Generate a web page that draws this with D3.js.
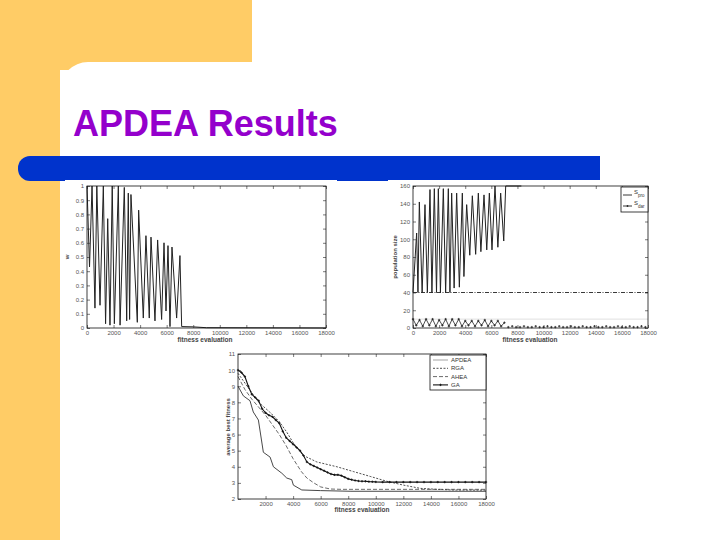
<!DOCTYPE html>
<html><head><meta charset="utf-8">
<script src="https://cdn.jsdelivr.net/npm/d3@7"></script>
<style>body{margin:0;background:#fff}svg{display:block}text{font-family:"Liberation Sans",Arial,sans-serif}</style>
</head><body>
<svg id="s" width="720" height="540"></svg>
<script>
// ---------- DATA ----------
const title = "APDEA Results";
// Chart 1: w vs fitness evaluation
const wX = [0,190,380,600,740,980,1230,1400,1560,1730,1900,2060,2360,2490,2810,2990,3110,3210,3310,3790,3890,4240,4440,4690,4820,5120,5320,5620,5800,5950,6100,6250,6400,6750,7000,7130,8000,9000,18000];
const wY = [1.0,0.43,1.0,0.14,1.0,0.16,1.0,0.03,0.77,0.02,1.0,0.03,1.0,0.02,0.99,0.05,0.95,0.06,0.94,0.04,0.83,0.07,0.65,0.07,0.64,0.05,0.62,0.06,0.60,0.12,0.58,0.01,0.57,0.07,0.51,0.01,0.008,0.002,0];
const c1YTicks = [0,0.1,0.2,0.3,0.4,0.5,0.6,0.7,0.8,0.9,1];
const c1YLabels = ["0","0.1","0.2","0.3","0.4","0.5","0.6","0.7","0.8","0.9","1"];
const evalTicks = [0,2000,4000,6000,8000,10000,12000,14000,16000,18000];
// Chart 2: population size
const proX = [0,280,380,485,700,919,1100,1302,1450,1634,1800,1941,2100,2324,2500,2707,2830,2962,3150,3345,3550,3779,3900,4111,4350,4545,4800,5005,5200,5439,5650,5848,6050,6281,6500,6715,6950,7100,8300];
const proY = [40,107,40,142,40,139,40,156,40,157,40,157,40,157,40,157,40,152,45,152,46,152,58,139,82,149,83,152,86,150,88,152,88,160,91,152,98,160,160];
const darX = [0,250,500,750,1000,1250,1500,1750,2000,2250,2500,2750,3000,3250,3500,3750,4000,4250,4500,4750,5000,5250,5500,5750,6000,6250,6500,6750,7000,7300,7600,7900,8200,8500,8800,9100,9400,9700,10000,10300,10600,10900,11200,11500,11800,12100,12400,12700,13000,13300,13600,13900,14200,14500,14800,15100,15400,15700,16000,16300,16600,16900,17200,17500,17800];
const darY = [10,3,9,2,10,3,10,2,9,3,10,2,10,3,10,2,8,3,8,2,8,3,9,2,8,3,8,2,6,1,2,1,1,2,1,1,2,1,1,2,1,1,2,1,1,2,1,1,2,1,1,2,1,1,2,1,1,2,1,1,2,1,1,2,1];
const c2RefLevels = [40,10];
const c2YTicks = [0,20,40,60,80,100,120,140,160];
const c2Legend = [["S","pro"],["S","dar"]];
// Chart 3: average best fitness
const apdeaX = [0,390,870,1110,1480,1840,2330,2570,3180,3540,3900,4020,4630,6000,8200,18000];
const apdeaY = [9.0,8.4,8.1,7.4,6.9,4.9,4.6,4.0,3.6,3.3,3.2,2.86,2.56,2.52,2.48,2.48];
const rgaX = [0,500,1000,1500,2300,3000,3540,4000,4750,5720,7180,8390,9600,10800,12020,13240,14450,15660,18000];
const rgaY = [9.8,9.2,8.6,8.0,7.4,6.8,6.15,5.5,4.7,4.3,4.0,3.7,3.4,3.1,2.86,2.66,2.6,2.56,2.55];
const aheaX = [0,500,1000,1500,2000,2500,3000,3500,4000,4600,5000,5500,6000,6700,7500,18000];
const aheaY = [9.6,8.8,8.2,7.7,7.2,6.6,6.0,5.3,4.5,3.7,3.3,3.0,2.75,2.62,2.6,2.6];
const gaX = [0,250,500,750,1000,1250,1500,1750,2000,2250,2500,2750,3000,3250,3500,3750,4000,4250,4500,4750,5000,5250,5500,5750,6000,6250,6500,6750,7000,7250,7500,7750,8000,8250,8500,8750,9000,9250,9500,9750,10000,10500,11000,11500,12000,12500,13000,13500,14000,14500,15000,15500,16000,16500,17000,17500,18000];
const gaY = [10.0,9.85,9.6,9.0,8.5,8.3,8.1,7.6,7.35,7.2,7.1,6.9,6.7,6.2,5.8,5.6,5.4,5.2,5.0,4.7,4.3,4.15,4.05,3.95,3.85,3.75,3.65,3.55,3.5,3.5,3.45,3.35,3.25,3.2,3.15,3.12,3.1,3.1,3.08,3.07,3.06,3.05,3.05,3.05,3.05,3.05,3.05,3.05,3.05,3.05,3.05,3.05,3.05,3.05,3.05,3.05,3.05];
const c3YTicks = [2,3,4,5,6,7,8,9,10,11];
const c3XTicks = [2000,4000,6000,8000,10000,12000,14000,16000,18000];
const c3Legend = ["APDEA","RGA","AHEA","GA"];

// ---------- SLIDE ----------
const svg = d3.select("#s");
svg.append("rect").attr("x",0).attr("y",0).attr("width",252).attr("height",70).attr("fill","#FFCC66");
svg.append("rect").attr("x",0).attr("y",0).attr("width",60).attr("height",540).attr("fill","#FFCC66");
svg.append("rect").attr("x",60).attr("y",62).attr("width",900).attr("height",700).attr("rx",28).attr("fill","#fff");
svg.append("text").attr("x",73).attr("y",136).attr("font-size",36).attr("font-weight","bold")
  .attr("fill","#9400CC").text(title);
svg.append("rect").attr("x",18).attr("y",156).attr("width",582).attr("height",25).attr("rx",12).attr("fill","#0033CC");
svg.append("rect").attr("x",40).attr("y",156).attr("width",560).attr("height",25).attr("fill","#0033CC");
// white picture backgrounds
svg.append("rect").attr("x",65).attr("y",180).attr("width",272).attr("height",165).attr("fill","#fff");
svg.append("rect").attr("x",388).attr("y",180).attr("width",267).attr("height",165).attr("fill","#fff");

function frame(x, y, L, R, T, B, xTicks, yTicks, yFmt, xTitle, yTitle, xTitleX, xTitleY, yTitleX, yTitleY) {
  const g = svg.append("g");
  g.append("rect").attr("x",L).attr("y",T).attr("width",R-L).attr("height",B-T).attr("fill","#fff");
  const fs = 6;
  const ax = (gen, tx, ty) => {
    const a = g.append("g").attr("transform",`translate(${tx},${ty})`).call(gen);
    a.select(".domain").remove();
    a.selectAll("line").attr("stroke","#222").attr("stroke-width",0.6);
    a.selectAll("text").attr("font-size",fs).attr("fill","#555").attr("font-family","Liberation Sans, Arial, sans-serif");
    return a;
  };
  ax(d3.axisBottom(x).tickValues(xTicks).tickSize(-3).tickPadding(3).tickFormat(d3.format("d")), 0, B);
  ax(d3.axisTop(x).tickValues(xTicks).tickSize(-3).tickFormat(""), 0, T);
  ax(d3.axisLeft(y).tickValues(yTicks).tickSize(-3).tickPadding(3).tickFormat(yFmt), L, 0);
  ax(d3.axisRight(y).tickValues(yTicks).tickSize(-3).tickFormat(""), R, 0);
  g.append("text").attr("x",xTitleX).attr("y",xTitleY).attr("text-anchor","middle").attr("font-size",6.5)
    .attr("font-weight","bold").attr("fill","#444").text(xTitle);
  g.append("text").attr("transform",`translate(${yTitleX},${yTitleY}) rotate(-90)`).attr("text-anchor","middle")
    .attr("font-size",6).attr("font-weight","bold").attr("fill","#444").text(yTitle);
  return g;
}
function box(g, L, R, T, B) {
  g.append("rect").attr("x",L).attr("y",T).attr("width",R-L).attr("height",B-T).attr("fill","none").attr("stroke","#111").attr("stroke-width",0.8);
}

// ---------- CHART 1 ----------
{
  const L=87,R=326,T=186,B=328;
  const x = d3.scaleLinear().domain([0,18000]).range([L,R]);
  const y = d3.scaleLinear().domain([0,1]).range([B,T]);
  const g = frame(x,y,L,R,T,B,evalTicks,c1YTicks,(d,i)=>c1YLabels[i],"fitness evaluation","w",205,342,69,257);
  const line = d3.line().x(d=>x(d[0])).y(d=>y(d[1]));
  g.append("path").datum(wX.map((v,i)=>[v,wY[i]])).attr("d",line).attr("fill","none").attr("stroke","#222").attr("stroke-width",1);
  box(g,L,R,T,B);
}

// ---------- CHART 2 ----------
{
  const L=413,R=648,T=186,B=328;
  const x = d3.scaleLinear().domain([0,18000]).range([L,R]);
  const y = d3.scaleLinear().domain([0,160]).range([B,T]);
  const g = frame(x,y,L,R,T,B,evalTicks,c2YTicks,d3.format("d"),"fitness evaluation","population size",530,342,397,257);
  const line = d3.line().x(d=>x(d[0])).y(d=>y(d[1]));
  g.append("line").attr("x1",L).attr("x2",R).attr("y1",y(c2RefLevels[1])).attr("y2",y(c2RefLevels[1])).attr("stroke","#ccc").attr("stroke-width",0.6);
  g.append("line").attr("x1",L).attr("x2",R).attr("y1",y(c2RefLevels[0])).attr("y2",y(c2RefLevels[0])).attr("stroke","#222").attr("stroke-width",0.9).attr("stroke-dasharray","4,1.5,1,1.5");
  g.append("path").datum(proX.map((v,i)=>[v,proY[i]])).attr("d",line).attr("fill","none").attr("stroke","#222").attr("stroke-width",1);
  const dd = darX.map((v,i)=>[v,darY[i]]);
  g.append("path").datum(dd.filter(d=>d[0]<=7000)).attr("d",line).attr("fill","none").attr("stroke","#222").attr("stroke-width",0.8);
  g.append("g").selectAll("path").data(dd).join("path")
    .attr("d",d=>`M${x(d[0])-1.2},${y(d[1])}h2.4M${x(d[0])},${y(d[1])-1.2}v2.4`).attr("stroke","#222").attr("stroke-width",0.8);
  box(g,L,R,T,B);
  // legend
  const lg = g.append("g");
  lg.append("rect").attr("x",621).attr("y",187).attr("width",27).attr("height",25).attr("fill","#fff").attr("stroke","#111").attr("stroke-width",0.8);
  c2Legend.forEach((e,i)=>{
    const yy = 195 + i*11;
    lg.append("line").attr("x1",623).attr("x2",632).attr("y1",yy).attr("y2",yy).attr("stroke","#222").attr("stroke-width",0.9);
    if (i===1) lg.append("path").attr("d",`M${626.5},${yy}h2M${627.5},${yy-1}v2`).attr("stroke","#222").attr("stroke-width",0.8);
    const t = lg.append("text").attr("x",634).attr("y",yy-1).attr("font-size",6).attr("fill","#333");
    t.append("tspan").text(e[0]);
    t.append("tspan").attr("dy",2.5).attr("font-size",4.5).text(e[1]);
  });
}

// ---------- CHART 3 ----------
{
  const L=238,R=486,T=354,B=499;
  const x = d3.scaleLinear().domain([0,18000]).range([L,R]);
  const y = d3.scaleLinear().domain([2,11]).range([B,T]);
  const g = frame(x,y,L,R,T,B,c3XTicks,c3YTicks,d3.format("d"),"fitness evaluation","average best fitness",362,512,230,427);
  const line = d3.line().x(d=>x(d[0])).y(d=>y(d[1]));
  const series = [
    {name:"APDEA", xs:apdeaX, ys:apdeaY, stroke:"#333", w:0.9, dash:null},
    {name:"RGA", xs:rgaX, ys:rgaY, stroke:"#222", w:0.8, dash:"2,1.5"},
    {name:"AHEA", xs:aheaX, ys:aheaY, stroke:"#444", w:0.8, dash:"4,2"},
    {name:"GA", xs:gaX, ys:gaY, stroke:"#111", w:1.1, dash:null, marker:true}
  ];
  series.forEach(s=>{
    const d = s.xs.map((v,i)=>[v,s.ys[i]]);
    g.append("path").datum(d).attr("d",line).attr("fill","none").attr("stroke",s.stroke).attr("stroke-width",s.w).attr("stroke-dasharray",s.dash);
    if (s.marker) g.append("g").selectAll("path").data(d).join("path")
      .attr("d",p=>`M${x(p[0])-1.2},${y(p[1])}h2.4M${x(p[0])},${y(p[1])-1.2}v2.4`).attr("stroke","#111").attr("stroke-width",0.8);
  });
  box(g,L,R,T,B);
  const lg = g.append("g");
  lg.append("rect").attr("x",430).attr("y",355).attr("width",56).attr("height",35).attr("fill","#fff").attr("stroke","#111").attr("stroke-width",0.8);
  c3Legend.forEach((n,i)=>{
    const s = series[i];
    const yy = 360 + i*8.3;
    lg.append("line").attr("x1",433).attr("x2",448).attr("y1",yy).attr("y2",yy).attr("stroke",i===0?"#999":s.stroke).attr("stroke-width",s.w).attr("stroke-dasharray",s.dash);
    if (s.marker) lg.append("path").attr("d",`M439.3,${yy}h2.4M440.5,${yy-1.2}v2.4`).attr("stroke","#111").attr("stroke-width",0.8);
    lg.append("text").attr("x",451).attr("y",yy+2).attr("font-size",6).attr("fill","#333").text(n);
  });
}
</script>
</body></html>
